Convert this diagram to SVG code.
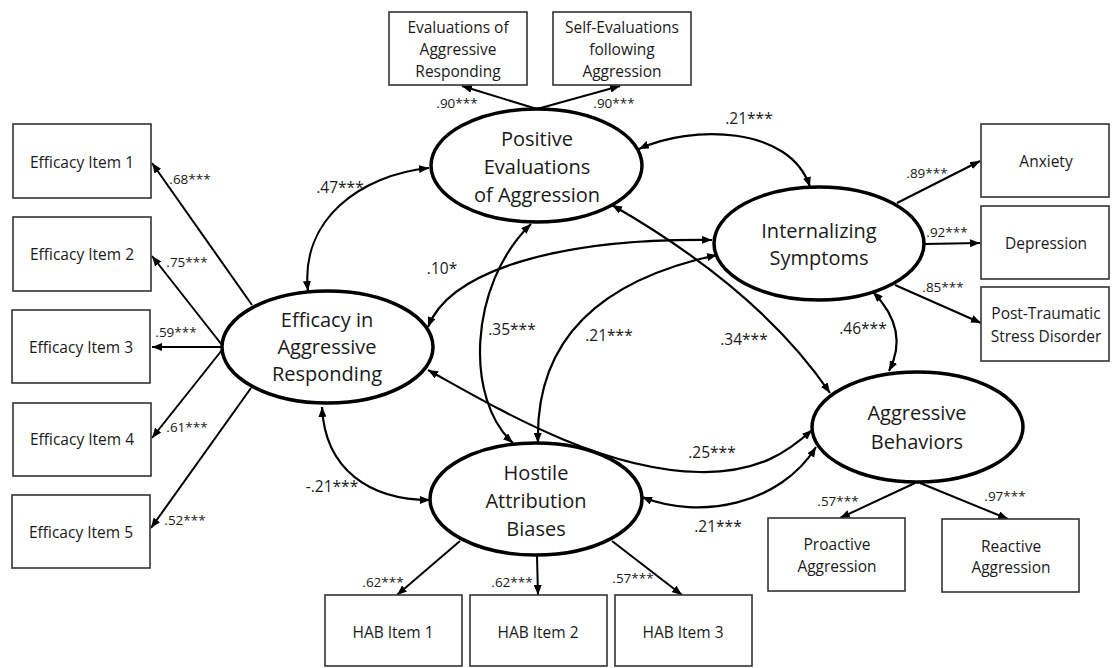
<svg xmlns="http://www.w3.org/2000/svg" width="1112" height="668" viewBox="0 0 1112 668">
<style>
text{font-family:"Open Sans","Liberation Sans",sans-serif;fill:#1a1a1a;text-anchor:middle}
.n{font-size:20px}
.b{font-size:15.5px}
.lb{font-size:15.5px}
.ls{font-size:13.5px}
.box{fill:#fff;stroke:#333;stroke-width:1.6}
.lat{fill:#fff;stroke:#000;stroke-width:3.5}
.c{fill:none;stroke:#000;stroke-width:2.2}
.i{fill:none;stroke:#000;stroke-width:2}
</style>
<defs>
<marker id="ah" viewBox="0 0 10 8" refX="10" refY="4" markerWidth="10" markerHeight="8" markerUnits="userSpaceOnUse" orient="auto-start-reverse">
<path d="M0,0 L10,4 L0,8 z" fill="#000"/>
</marker>
</defs>
<rect width="1112" height="668" fill="#fff"/>

<g id="connectors">
<path class="i" d="M537,109 L462,86" marker-end="url(#ah)"/>
<path class="i" d="M537,109 L620,86" marker-end="url(#ah)"/>
<path class="i" d="M252,305 L152,163" marker-end="url(#ah)"/>
<path class="i" d="M222,345 L152,256" marker-end="url(#ah)"/>
<path class="i" d="M222,347 L152,347" marker-end="url(#ah)"/>
<path class="i" d="M222,350 L152,438" marker-end="url(#ah)"/>
<path class="i" d="M251,388 L151,528" marker-end="url(#ah)"/>
<path class="i" d="M897,203 L980,161" marker-end="url(#ah)"/>
<path class="i" d="M925,244 L980,243" marker-end="url(#ah)"/>
<path class="i" d="M895,285 L981,323" marker-end="url(#ah)"/>
<path class="i" d="M460,541 L397,595" marker-end="url(#ah)"/>
<path class="i" d="M537,556 L538,595" marker-end="url(#ah)"/>
<path class="i" d="M612,541 L682,595" marker-end="url(#ah)"/>
<path class="i" d="M915,483 L840,518" marker-end="url(#ah)"/>
<path class="i" d="M920,483 L1008,519" marker-end="url(#ah)"/>

<path class="c" d="M308,291 C300,220 360,175 429,168" marker-start="url(#ah)" marker-end="url(#ah)"/>
<path class="c" d="M639,149 C690,125 790,125 810,187" marker-start="url(#ah)" marker-end="url(#ah)"/>
<path class="c" d="M428,327 C450,270 560,238 712,240" marker-start="url(#ah)" marker-end="url(#ah)"/>
<path class="c" d="M531,224 C468,285 465,400 513,443" marker-start="url(#ah)" marker-end="url(#ah)"/>
<path class="c" d="M538,443 C535,340 600,280 717,255" marker-start="url(#ah)" marker-end="url(#ah)"/>
<path class="c" d="M612,205 Q760,290 830,393" marker-start="url(#ah)" marker-end="url(#ah)"/>
<path class="c" d="M873,292 Q910,330 889,371" marker-start="url(#ah)" marker-end="url(#ah)"/>
<path class="c" d="M428,370 C500,410 600,470 700,472 C760,473 790,450 812,430" marker-start="url(#ah)" marker-end="url(#ah)"/>
<path class="c" d="M322,407 C325,470 370,500 430,500" marker-start="url(#ah)" marker-end="url(#ah)"/>
<path class="c" d="M642,497 C700,520 780,505 816,447" marker-start="url(#ah)" marker-end="url(#ah)"/>
</g>

<g id="labels">
<text class="ls" x="457" y="108">.90***</text>
<text class="ls" x="614" y="108">.90***</text>
<text class="lb" x="749" y="124">.21***</text>
<text class="lb" x="340" y="193">.47***</text>
<text class="ls" x="190" y="184">.68***</text>
<text class="ls" x="187" y="267">.75***</text>
<text class="ls" x="176" y="337">.59***</text>
<text class="ls" x="187" y="432">.61***</text>
<text class="ls" x="185" y="525">.52***</text>
<text class="lb" x="442" y="274">.10*</text>
<text class="lb" x="512" y="335">.35***</text>
<text class="lb" x="609" y="341">.21***</text>
<text class="lb" x="744" y="345">.34***</text>
<text class="lb" x="863" y="334">.46***</text>
<text class="lb" x="712" y="458">.25***</text>
<text class="lb" x="718" y="532">.21***</text>
<text class="lb" x="332" y="492">-.21***</text>
<text class="ls" x="927" y="178">.89***</text>
<text class="ls" x="947" y="237">.92***</text>
<text class="ls" x="943" y="292">.85***</text>
<text class="ls" x="838" y="506">.57***</text>
<text class="ls" x="1005" y="501">.97***</text>
<text class="ls" x="383" y="587">.62***</text>
<text class="ls" x="512" y="587">.62***</text>
<text class="ls" x="633" y="583">.57***</text>
</g>

<g id="node-positive">
<ellipse class="lat" cx="536.5" cy="165.5" rx="105.5" ry="56.5"/>
<text class="n" x="537" y="146">Positive</text>
<text class="n" x="537" y="174">Evaluations</text>
<text class="n" x="537" y="202">of Aggression</text>
</g>
<g id="node-efficacy">
<ellipse class="lat" cx="327.5" cy="347" rx="105.5" ry="56"/>
<text class="n" x="327" y="327">Efficacy in</text>
<text class="n" x="327" y="354">Aggressive</text>
<text class="n" x="327" y="381">Responding</text>
</g>
<g id="node-internalizing">
<ellipse class="lat" cx="819" cy="243.5" rx="105" ry="56.5"/>
<text class="n" x="819" y="238">Internalizing</text>
<text class="n" x="819" y="265">Symptoms</text>
</g>
<g id="node-hostile">
<ellipse class="lat" cx="536" cy="499" rx="106" ry="56"/>
<text class="n" x="536" y="480">Hostile</text>
<text class="n" x="536" y="508">Attribution</text>
<text class="n" x="536" y="536">Biases</text>
</g>
<g id="node-aggressive">
<ellipse class="lat" cx="917.5" cy="427" rx="105.5" ry="55"/>
<text class="n" x="917" y="420">Aggressive</text>
<text class="n" x="917" y="449">Behaviors</text>
</g>

<g id="box-eval">
<rect class="box" x="389" y="12" width="138" height="73"/>
<text class="b" x="458" y="32.5">Evaluations of</text>
<text class="b" x="458" y="54.5">Aggressive</text>
<text class="b" x="458" y="76.5">Responding</text>
</g>
<g id="box-selfeval">
<rect class="box" x="553" y="12" width="138" height="73"/>
<text class="b" x="622" y="32.5">Self-Evaluations</text>
<text class="b" x="622" y="54.5">following</text>
<text class="b" x="622" y="76.5">Aggression</text>
</g>
<g id="box-eff1"><rect class="box" x="13" y="124" width="138" height="74"/><text class="b" x="82" y="167.5">Efficacy Item 1</text></g>
<g id="box-eff2"><rect class="box" x="13" y="217" width="138" height="74"/><text class="b" x="82" y="259.5">Efficacy Item 2</text></g>
<g id="box-eff3"><rect class="box" x="12" y="310" width="138" height="73"/><text class="b" x="81" y="352.5">Efficacy Item 3</text></g>
<g id="box-eff4"><rect class="box" x="13" y="403" width="138" height="73"/><text class="b" x="82" y="444.5">Efficacy Item 4</text></g>
<g id="box-eff5"><rect class="box" x="12" y="495" width="138" height="73"/><text class="b" x="81" y="537.5">Efficacy Item 5</text></g>
<g id="box-anxiety"><rect class="box" x="981" y="124" width="128" height="73"/><text class="b" x="1046" y="166.5">Anxiety</text></g>
<g id="box-depression"><rect class="box" x="981" y="206" width="128" height="73"/><text class="b" x="1046" y="248.5">Depression</text></g>
<g id="box-ptsd"><rect class="box" x="981" y="287" width="128" height="74"/><text class="b" x="1046" y="318.5">Post-Traumatic</text><text class="b" x="1046" y="341.5">Stress Disorder</text></g>
<g id="box-proactive"><rect class="box" x="768" y="518" width="137" height="73"/><text class="b" x="837" y="549.5">Proactive</text><text class="b" x="837" y="571.5">Aggression</text></g>
<g id="box-reactive"><rect class="box" x="942" y="519" width="137" height="73"/><text class="b" x="1011" y="551.5">Reactive</text><text class="b" x="1011" y="572.5">Aggression</text></g>
<g id="box-hab1"><rect class="box" x="325" y="595" width="137" height="71"/><text class="b" x="393" y="637.5">HAB Item 1</text></g>
<g id="box-hab2"><rect class="box" x="470" y="595" width="137" height="71"/><text class="b" x="538" y="637.5">HAB Item 2</text></g>
<g id="box-hab3"><rect class="box" x="615" y="595" width="137" height="71"/><text class="b" x="683" y="637.5">HAB Item 3</text></g>
</svg>
